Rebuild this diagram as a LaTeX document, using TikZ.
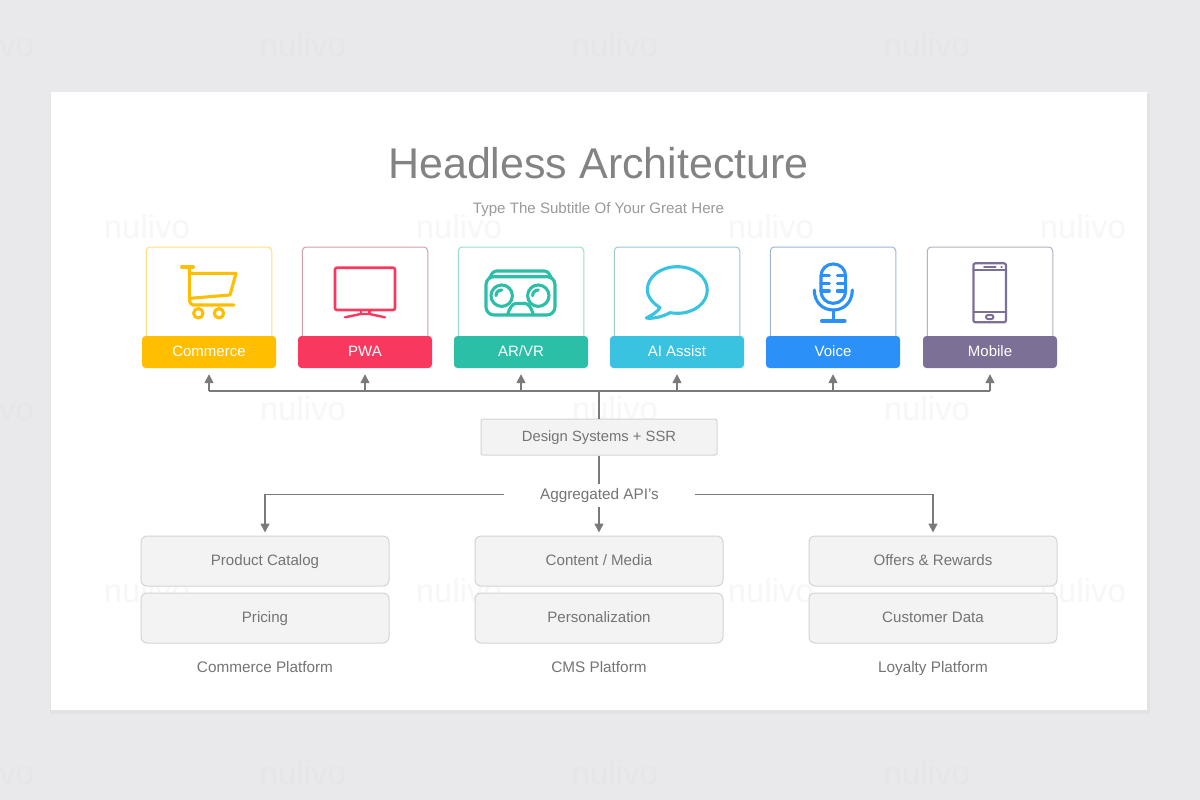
\documentclass[tikz,border=0pt]{standalone}
\usepackage{fontspec}
\setmainfont{Liberation Sans}
\usetikzlibrary{arrows.meta}
\definecolor{pageback}{HTML}{E9E8EA}
\definecolor{pageshadow}{HTML}{E3E2E4}
\definecolor{markgray}{HTML}{E6E5E7}
\definecolor{linegray}{HTML}{7A7A7A}
\definecolor{textgray}{HTML}{747474}
\definecolor{titlegray}{HTML}{838383}
\definecolor{subgray}{HTML}{9A9A9A}
\definecolor{boxfill}{HTML}{F3F3F3}
\definecolor{boxline}{HTML}{D4D4D4}
\definecolor{commercecol}{HTML}{FFBE00}
\definecolor{pwacol}{HTML}{F8385E}
\definecolor{vrcol}{HTML}{2BBFA8}
\definecolor{aicol}{HTML}{3AC3E0}
\definecolor{voicecol}{HTML}{2B90F7}
\definecolor{mobilecol}{HTML}{7C7096}
\tikzset{
    iconcard/.style={draw=#1, fill=white, rounded corners=4pt, minimum width=125.5pt, minimum height=93pt, inner sep=0pt, line width=1pt},
    labelbar/.style={fill=#1, rounded corners=3.5pt, minimum width=134pt, minimum height=32pt, inner sep=0pt, text=white, text height=11pt, text depth=3pt, font=\fontsize{15}{18}\selectfont},
    icon/.style={draw=#1, line width=3.1pt, line cap=round, line join=round},
    graybox/.style={draw=boxline, fill=boxfill, rounded corners=6pt, minimum width=248pt, minimum height=50pt, inner sep=0pt, line width=1pt, text=textgray, text height=11pt, text depth=3pt, font=\fontsize{15.1}{18}\selectfont},
    plainlabel/.style={text=textgray, text height=12pt, text depth=2pt, font=\fontsize{15.3}{18}\selectfont, inner sep=0pt},
    wire/.style={draw=linegray, line width=1.5pt},
    wirearrow/.style={wire, -{Stealth[length=9pt, width=9pt, inset=0pt]}, shorten >=3pt},
    watermark/.style={text=#1, font=\fontsize{33}{34}\selectfont}
}
\begin{document}
\begin{tikzpicture}[x=1pt, y=-1pt]
    \useasboundingbox (0,0) rectangle (1200,800);
    \fill[pageback] (0,0) rectangle (1200,800);
    \node[watermark=markgray] (markA) at (-9,45) {nulivo};
    \node[watermark=markgray] (markB) at (303,45) {nulivo};
    \node[watermark=markgray] (markC) at (615,45) {nulivo};
    \node[watermark=markgray] (markD) at (927,45) {nulivo};
    \node[watermark=markgray] (markE) at (-9,409) {nulivo};
    \node[watermark=markgray] (markF) at (-9,773) {nulivo};
    \node[watermark=markgray] (markG) at (303,773) {nulivo};
    \node[watermark=markgray] (markH) at (615,773) {nulivo};
    \node[watermark=markgray] (markI) at (927,773) {nulivo};
    \fill[pageshadow] (50,94) rectangle (1150,714);
    \fill[white] (51,92) rectangle (1147,710);
    \node[watermark=black!3] (markJ) at (147,227) {nulivo};
    \node[watermark=black!3] (markK) at (459,227) {nulivo};
    \node[watermark=black!3] (markL) at (771,227) {nulivo};
    \node[watermark=black!3] (markM) at (1083,227) {nulivo};
    \node[watermark=black!3] (markN) at (303,409) {nulivo};
    \node[watermark=black!3] (markO) at (615,409) {nulivo};
    \node[watermark=black!3] (markP) at (927,409) {nulivo};
    \node[watermark=black!3] (markQ) at (147,591) {nulivo};
    \node[watermark=black!3] (markR) at (459,591) {nulivo};
    \node[watermark=black!3] (markS) at (771,591) {nulivo};
    \node[watermark=black!3] (markT) at (1083,591) {nulivo};

    \node[text=titlegray, font=\fontsize{43}{48}\selectfont] (title) at (598.5,163) {Headless Architecture};
    \node[text=subgray, font=\fontsize{15.1}{18}\selectfont] (subtitle) at (598.5,209.5) {Type The Subtitle Of Your Great Here};

    \node[iconcard=commercecol!50] (cardCommerce) at (209,293.5) {};
    \node[iconcard=pwacol!45!gray!60] (cardPWA) at (365,293.5) {};
    \node[iconcard=vrcol!50] (cardVR) at (521,293.5) {};
    \node[iconcard=aicol!50!gray!60] (cardAI) at (677,293.5) {};
    \node[iconcard=voicecol!45!gray!60] (cardVoice) at (833,293.5) {};
    \node[iconcard=mobilecol!55] (cardMobile) at (990,293.5) {};
    \node[labelbar=commercecol] (Commerce) at (209,352) {Commerce};
    \node[labelbar=pwacol] (PWA) at (365,352) {PWA};
    \node[labelbar=vrcol] (VR) at (521,352) {AR/VR};
    \node[labelbar=aicol] (AI) at (677,352) {AI Assist};
    \node[labelbar=voicecol] (Voice) at (833,352) {Voice};
    \node[labelbar=mobilecol] (Mobile) at (990,352) {Mobile};

    \begin{scope}[shift={(209,292)}]
        \draw[icon=commercecol] (-27.3,-25) -- (-15.7,-25);
        \draw[icon=commercecol] (-19.7,-25) -- (-19.7,6.3) .. controls (-19.7,10) and (-18,13) .. (-15.7,13) -- (25,13);
        \draw[icon=commercecol] (-19.7,-18.7) -- (27,-18.7) -- (21,3) -- (-18.3,6.3);
        \draw[icon=commercecol] (-10.7,21.3) circle (4.7);
        \draw[icon=commercecol] (10,21.3) circle (4.7);
    \end{scope}
    \begin{scope}[shift={(365,292)}]
        \draw[icon=pwacol, line width=2.6pt, rounded corners=2pt] (-30,-24.3) rectangle (30,18);
        \draw[icon=pwacol, line width=2.4pt] (-20,25.3) -- (-4.3,22) -- (4.3,22) -- (20,25.3);
        \draw[icon=pwacol, line width=2.4pt] (-4.3,18) -- (-4.3,22);
        \draw[icon=pwacol, line width=2.4pt] (4.3,18) -- (4.3,22);
    \end{scope}
    \begin{scope}[shift={(520.5,292)}]
        \draw[icon=vrcol, rounded corners=8pt] (-34.5,-15.3) rectangle (34.5,23);
        \draw[icon=vrcol, rounded corners=3pt] (-31,-14) -- (-27,-21) -- (27,-21) -- (31,-14);
        \draw[icon=vrcol] (-18.8,3.7) circle (10.7);
        \draw[icon=vrcol] (17.8,3.7) circle (10.7);
        \draw[icon=vrcol] (-24.5,3.7) .. controls (-24.5,0.5) and (-22,-2) .. (-18.8,-2);
        \draw[icon=vrcol] (12.1,3.7) .. controls (12.1,0.5) and (14.6,-2) .. (17.8,-2);
        \draw[icon=vrcol] (-13,23) .. controls (-11,16) and (-8,11.3) .. (-4,11.3) -- (4,11.3) .. controls (8,11.3) and (11,16) .. (13,23);
    \end{scope}
    \begin{scope}[shift={(677.3,292)}]
        \draw[icon=aicol] (-17.3,15.7) .. controls (-26,10) and (-30,4) .. (-30,-2)
            .. controls (-30,-15) and (-17,-25.3) .. (0,-25.3)
            .. controls (17,-25.3) and (30,-15) .. (30,-2)
            .. controls (30,11) and (17,21.3) .. (0,21.3)
            .. controls (-3,21.3) and (-5,21) .. (-7.3,20.7)
            .. controls (-15,25) and (-25,27) .. (-31,26)
            .. controls (-25,23) and (-20,20) .. (-17.3,15.7) -- cycle;
    \end{scope}
    \begin{scope}[shift={(833.3,292)}]
        \draw[icon=voicecol, rounded corners=12pt] (-12.3,-28) rectangle (12.3,11.3);
        \draw[icon=voicecol] (-12.3,-16.3) -- (-4,-16.3);
        \draw[icon=voicecol] (-12.3,-8.7) -- (-4,-8.7);
        \draw[icon=voicecol] (-12.3,-1) -- (-4,-1);
        \draw[icon=voicecol] (12.3,-16.3) -- (4,-16.3);
        \draw[icon=voicecol] (12.3,-8.7) -- (4,-8.7);
        \draw[icon=voicecol] (12.3,-1) -- (4,-1);
        \draw[icon=voicecol] (-19,-2) .. controls (-19,10) and (-11,18) .. (0,18) .. controls (11,18) and (19,10) .. (19,-2);
        \draw[icon=voicecol] (0,18) -- (0,29);
        \draw[icon=voicecol] (-11.7,29) -- (11.7,29);
    \end{scope}
    \begin{scope}[shift={(989.7,292)}]
        \draw[icon=mobilecol, line width=2.2pt, rounded corners=2pt] (-16.3,-28.7) rectangle (16.3,30.3);
        \draw[icon=mobilecol, line width=2pt] (-16.3,-22) -- (16.3,-22);
        \draw[icon=mobilecol, line width=2pt] (-16.3,19.7) -- (16.3,19.7);
        \draw[icon=mobilecol, line width=2pt] (-5.7,-25) -- (6,-25);
        \draw[icon=mobilecol, line width=2.4pt] (11.7,-25) -- (12,-25);
        \draw[icon=mobilecol, line width=2pt, rounded corners=2pt] (-3.7,23) rectangle (3.7,27);
    \end{scope}

    \node[graybox, minimum width=236pt, minimum height=36pt, rounded corners=2pt, font=\fontsize{14.8}{18}\selectfont] (Design) at (599,437) {Design Systems + SSR};
    \node[plainlabel, minimum width=190pt, minimum height=22pt] (API) at (599.5,494.5) {Aggregated API's};
    \node[graybox] (Catalog) at (265,561) {Product Catalog};
    \node[graybox] (Pricing) at (265,618) {Pricing};
    \node[graybox] (Content) at (599,561) {Content / Media};
    \node[graybox] (Personal) at (599,618) {Personalization};
    \node[graybox] (Offers) at (933,561) {Offers \& Rewards};
    \node[graybox] (Customer) at (933,618) {Customer Data};
    \node[plainlabel] (labelCommerce) at (265,667) {Commerce Platform};
    \node[plainlabel] (labelCMS) at (599,667) {CMS Platform};
    \node[plainlabel] (labelLoyalty) at (933,667) {Loyalty Platform};

    \coordinate (bus) at (599,391);
    \draw[wire] (Design.north) -- (bus);
    \draw[wire] (Design.south) -- (599,484);
    \draw[wire] (209,391) -- (990,391);
    \draw[wirearrow, shorten >=6pt] (209,391) -- (Commerce.south);
    \draw[wirearrow, shorten >=6pt] (365,391) -- (PWA.south);
    \draw[wirearrow, shorten >=6pt] (521,391) -- (VR.south);
    \draw[wirearrow, shorten >=6pt] (677,391) -- (AI.south);
    \draw[wirearrow, shorten >=6pt] (833,391) -- (Voice.south);
    \draw[wirearrow, shorten >=6pt] (990,391) -- (Mobile.south);
    \draw[wirearrow] (API.west) -| (Catalog.north);
    \draw[wirearrow] (API.east) -| (Offers.north);
    \draw[wirearrow] (599,507) -- (Content.north);
\end{tikzpicture}
\end{document}
